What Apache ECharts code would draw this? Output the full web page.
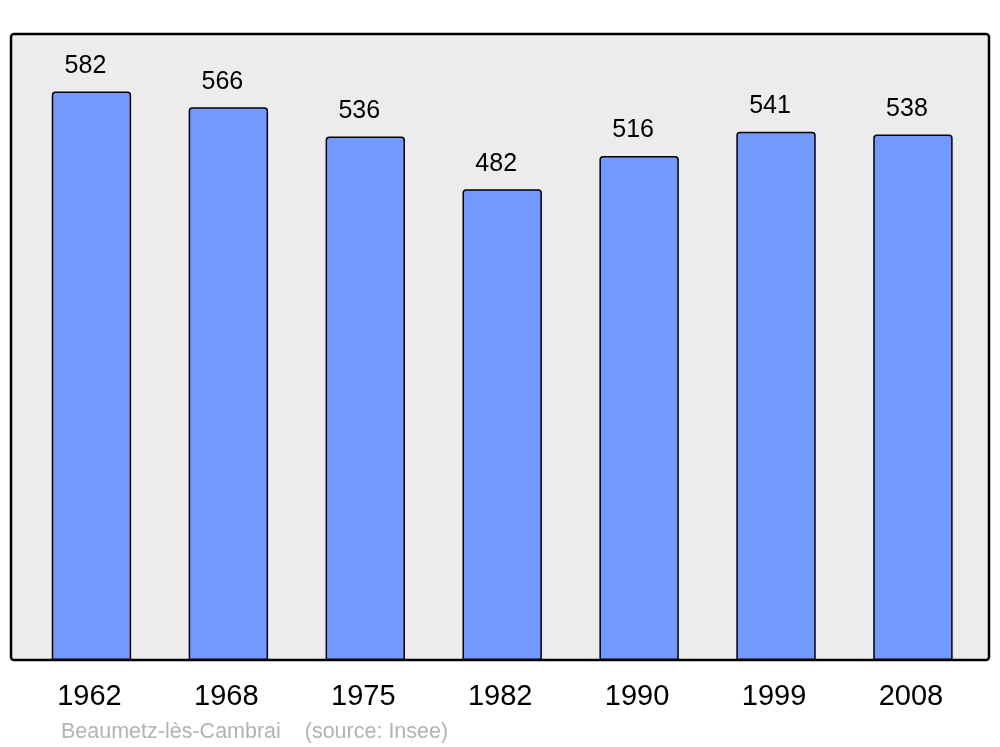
<!DOCTYPE html>
<html><head><meta charset="utf-8">
<script src="https://cdn.jsdelivr.net/npm/echarts@6/dist/echarts.min.js"></script>
<style>html,body{margin:0;padding:0;background:#fff}#c{width:1000px;height:747px}</style>
</head><body><div id="c"></div>
<script>
var years = ['1962','1968','1975','1982','1990','1999','2008'];
var population = [582,566,536,482,516,541,538];
var footer = 'Beaumetz-lès-Cambrai    (source: Insee)';

var chart = echarts.init(document.getElementById('c'), null, {renderer:'canvas'});
chart.setOption({
  animation:false,
  backgroundColor:'#ffffff',
  title:{text:footer,left:61,top:721,padding:0,textStyle:{fontFamily:'Liberation Sans',fontSize:21.5,fontWeight:'normal',color:'#b3b3b3'}},
  graphic:[{type:'rect',z:-10,shape:{x:11,y:34,width:978,height:626,r:3},style:{fill:'#ececec',stroke:'#000',lineWidth:2.5}}],
  grid:{left:23,right:18.6,top:34,bottom:87,containLabel:false},
  xAxis:{type:'category',data:years,axisLine:{show:false},axisTick:{show:false},
    axisLabel:{margin:22,fontFamily:'Liberation Sans',fontSize:29,color:'#000',padding:[0,4,0,0]}},
  yAxis:{type:'value',min:0,max:641,show:false,splitLine:{show:false}},
  series:[{type:'bar',data:population,barCategoryGap:'42%',
    itemStyle:{color:'#7399ff',borderColor:'#000',borderWidth:1.5,borderRadius:[3,3,0,0]},
    label:{show:true,position:'top',distance:13,offset:[-6,0],fontFamily:'Liberation Sans',fontSize:25,color:'#000'}}]
});
</script></body></html>
